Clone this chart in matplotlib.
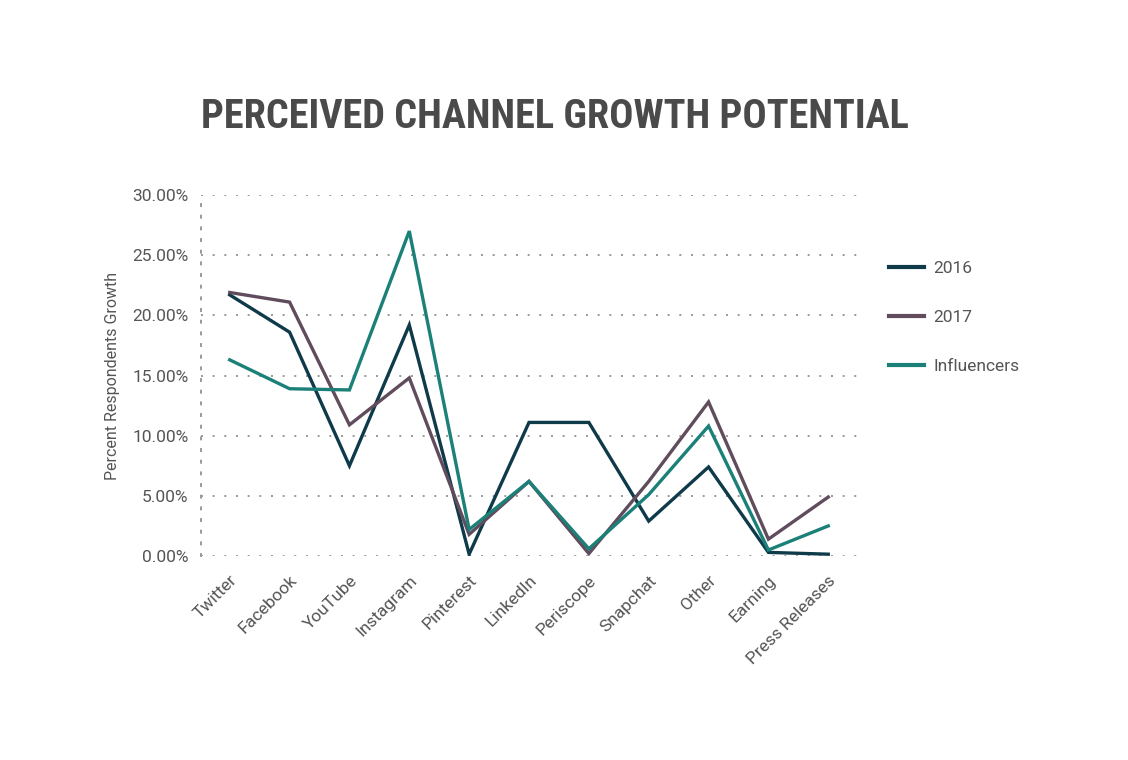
import matplotlib
matplotlib.use('Agg')
import matplotlib.pyplot as plt
from matplotlib import font_manager
from matplotlib.ticker import FuncFormatter

# data
channels = ['Twitter', 'Facebook', 'YouTube', 'Instagram', 'Pinterest', 'LinkedIn',
            'Periscope', 'Snapchat', 'Other', 'Earning', 'Press Releases']
y2016 = [21.7, 18.6, 7.5, 19.2, 0.15, 11.1, 11.1, 2.9, 7.4, 0.3, 0.15]
y2017 = [21.9, 21.1, 10.9, 14.8, 1.8, 6.2, 0.2, 6.2, 12.8, 1.4, 4.9]
influencers = [16.3, 13.9, 13.8, 27.0, 2.2, 6.2, 0.6, 5.1, 10.8, 0.5, 2.5]
yticks = [0, 5, 10, 15, 20, 25, 30]

colors = {'2016': '#0f3a4a', '2017': '#604c5c', 'Influencers': '#1b8078'}
text_color = '#555555'

names = {f.name for f in font_manager.fontManager.ttflist}
title_font = 'Roboto Condensed' if 'Roboto Condensed' in names else 'Roboto'
plt.rcParams['font.family'] = ['Roboto', 'DejaVu Sans']

fig = plt.figure(figsize=(11.28, 7.6), dpi=100)
ax = fig.add_axes([201 / 1128, 1 - 556 / 760, 659 / 1128, 361 / 760])

x = range(len(channels))
ax.plot(x, y2016, color=colors['2016'], lw=2.4, label='2016', solid_joinstyle='miter')
ax.plot(x, y2017, color=colors['2017'], lw=2.4, label='2017', solid_joinstyle='miter')
ax.plot(x, influencers, color=colors['Influencers'], lw=2.4, label='Influencers',
        solid_joinstyle='miter')

ax.set_xlim(-0.48, 10.53)
ax.set_ylim(0, 30)
ax.set_yticks(yticks)
ax.yaxis.set_major_formatter(FuncFormatter(lambda v, p: '%.2f%%' % v))
ax.set_xticks(list(x))
ax.set_xticklabels(channels, rotation=45, ha='right', rotation_mode='anchor')

ax.grid(axis='y', color='#999999', linestyle=(0, (1, 5)), lw=1.4)
ax.set_axisbelow(True)
for s in ['top', 'right', 'bottom']:
    ax.spines[s].set_visible(False)
ax.spines['left'].set_color('#999999')
ax.spines['left'].set_linestyle((0, (1, 5)))
ax.spines['left'].set_linewidth(1.4)
ax.tick_params(length=0, colors=text_color, labelsize=12.5)
ax.tick_params(axis='y', pad=9)
ax.tick_params(axis='x', pad=12)

ax.set_ylabel('Percent Respondents Growth', color=text_color, fontsize=11.5, labelpad=9)

leg = ax.legend(loc='upper left', bbox_to_anchor=(1.02, 0.86), frameon=False,
                fontsize=12.5, handlelength=2.0, labelspacing=1.95, handletextpad=0.55)
for t in leg.get_texts():
    t.set_color(text_color)
for l in leg.get_lines():
    l.set_linewidth(3)

fig.text(555 / 1128, 1 - 117 / 760, 'PERCEIVED CHANNEL GROWTH POTENTIAL',
         family=title_font, fontweight='bold', fontsize=29, color='#4a4a4a',
         ha='center', va='center')

fig.savefig('out.png', dpi=100, facecolor='white')
